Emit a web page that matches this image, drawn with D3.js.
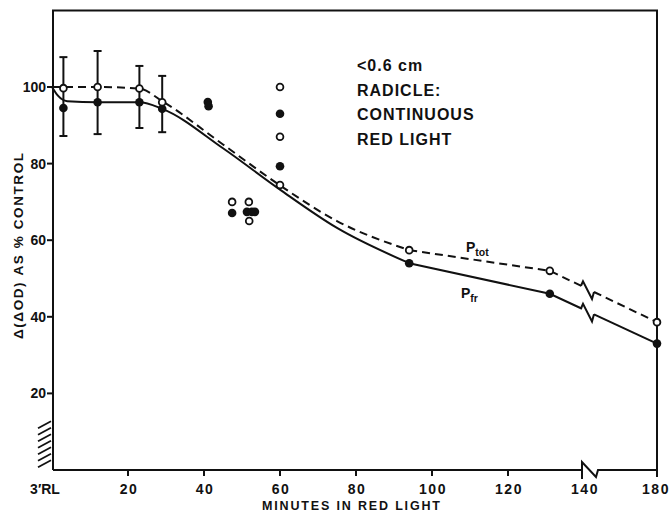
<!DOCTYPE html>
<html>
<head>
<meta charset="utf-8">
<script src="https://cdn.jsdelivr.net/npm/d3@7"></script>
<style>
    body { margin: 0; background: #fff; }
    svg text { font-family: "Liberation Sans", Arial, sans-serif; font-weight: bold; fill: #111; }
</style>
</head>
<body>
<svg id="chart" width="669" height="512"></svg>
<script>
// ── Data ─────────────────────────────────────────────────

const xTicks = [0, 20, 40, 60, 80, 100, 120, 140, 180];
const xTickLabels = ['3\u2032RL', '20', '40', '60', '80', '100', '120', '140', '180'];
const yTicks = [20, 40, 60, 80, 100];

// fitted curves (minutes, % control)
const totCurve = [[0, 100], [3, 100], [12, 100], [23, 99.6], [29, 96.3], [45, 85], [60, 74.3], [75, 65], [94, 57.4]];
const frCurve = [[0, 100], [1.5, 97.8], [4, 96.3], [12, 96], [23, 96], [29, 94.3], [45, 84], [60, 73.2], [75, 63.2], [94, 54]];
// straight segments after the curve; the axis break sits between the last two
const totTail = [[94, 57.4], [131, 52], [180, 38.6]];
const frTail = [[94, 54], [131, 46], [180, 33]];

// markers on curves
const totPoints = [[3, 99.7], [12, 100], [23, 99.6], [29, 96], [60, 74.4], [94, 57.4], [131, 52], [180, 38.6]];
const frPoints = [[3, 94.5], [12, 96], [23, 96], [29, 94.3], [94, 54], [131, 46], [180, 33]];

// error bars [minutes, low, high]
const errorBars = [[3, 87.2, 107.8], [12, 87.7, 109.4], [23, 89.3, 105.5], [29, 88.2, 102.9]];

// loose individual determinations
const scatterOpen = [[47.4, 70], [51.8, 70], [51.9, 65], [60, 100], [60, 87]];
const scatterFilled = [[41, 96.1], [41.2, 95], [47.4, 67.1], [51.3, 67.4], [52.6, 67.4], [53.4, 67.4], [60, 93], [60, 79.3]];

const noteLines = ['<0.6 cm', 'RADICLE:', 'CONTINUOUS', 'RED LIGHT'];

// ── Scales ──────────────────────────────────────────────

const svg = d3.select('#chart');
const x = d3.scaleLinear().domain([0, 140, 180]).range([52, 584, 657]);
const y = d3.scaleLinear().domain([0, 120]).range([470, 10.4]);
const ink = '#111';

// ── Frame ───────────────────────────────────────────────

svg.append('path')
    .attr('d', `M${x(0) + 1},${y(0)} V${y(120)} H${x(180)} V${y(0)}`)
    .attr('fill', 'none').attr('stroke', ink).attr('stroke-width', 2);
svg.append('line')
    .attr('x1', x(180)).attr('x2', x(180)).attr('y1', y(0)).attr('y2', y(0) + 7)
    .attr('stroke', ink).attr('stroke-width', 2);

// x axis with break after 140
const xb = x(140) - 2;
svg.append('path')
    .attr('d', `M${x(0) + 1},${y(0)} H${xb} M${xb},${y(0) + 9} V${y(0) - 8} L${xb + 14},${y(0) + 7} L${xb + 16},${y(0)} H${x(180)}`)
    .attr('fill', 'none').attr('stroke', ink).attr('stroke-width', 2);

// hatch under y axis
const hatch = d3.range(y(1.5), y(13), -6.5);
svg.append('g').selectAll('line').data(hatch).enter().append('line')
    .attr('x1', 38).attr('y1', d => d + 3)
    .attr('x2', 51).attr('y2', d => d - 4)
    .attr('stroke', ink).attr('stroke-width', 1.8);

// ticks
svg.append('g').selectAll('line').data(xTicks.filter(t => t !== 0 && t !== 140 && t !== 180)).enter().append('line')
    .attr('x1', d => x(d)).attr('x2', d => x(d))
    .attr('y1', y(0) - 1).attr('y2', y(0) + 6)
    .attr('stroke', ink).attr('stroke-width', 2);
svg.append('g').selectAll('line').data(yTicks).enter().append('line')
    .attr('x1', x(0) - 5).attr('x2', x(0) + 1)
    .attr('y1', d => y(d)).attr('y2', d => y(d))
    .attr('stroke', ink).attr('stroke-width', 2);

// tick labels
svg.append('g').selectAll('text').data(xTicks).enter().append('text')
    .attr('x', (d, i) => i === 0 ? x(d) - 7 : (i === xTicks.length - 1 ? x(d) - 1 : x(d) + 1))
    .attr('y', 494)
    .attr('text-anchor', 'middle')
    .style('font-size', '14px')
    .style('letter-spacing', (d, i) => i === 0 ? '0px' : '1.5px')
    .text((d, i) => xTickLabels[i]);
svg.append('g').selectAll('text').data(yTicks).enter().append('text')
    .attr('x', x(0) - 6)
    .attr('y', d => y(d) + 5)
    .attr('text-anchor', 'end')
    .style('font-size', '14px')
    .text(d => d);

// axis titles
svg.append('text')
    .attr('x', 351).attr('y', 510)
    .attr('text-anchor', 'middle')
    .attr('textLength', 178).attr('lengthAdjust', 'spacing')
    .style('font-size', '12.5px')
    .text('MINUTES IN RED LIGHT');
svg.append('text')
    .attr('transform', 'translate(23,246) rotate(-90)')
    .attr('text-anchor', 'middle')
    .attr('textLength', 186).attr('lengthAdjust', 'spacing')
    .style('font-size', '13.5px')
    .text('\u0394(\u0394OD) AS % CONTROL');

// ── Curves ──────────────────────────────────────────────

const line = d3.line().x(d => x(d[0])).y(d => y(d[1])).curve(d3.curveMonotoneX);

function drawSeries(curve, tail, dash) {
    const g = svg.append('g')
        .attr('fill', 'none').attr('stroke', ink).attr('stroke-width', 2)
        .attr('stroke-dasharray', dash);
    g.append('path').attr('d', line(curve));
    // straight tail with a zigzag break near 140
    const p0 = [x(tail[1][0]), y(tail[1][1])];
    const p1 = [x(tail[2][0]), y(tail[2][1])];
    const yAt = px => p0[1] + (p1[1] - p0[1]) * (px - p0[0]) / (p1[0] - p0[0]);
    const a = x(140) - 2, b = a + 12;
    g.append('path').attr('d', `M${x(tail[0][0])},${y(tail[0][1])} L${p0[0]},${p0[1]} L${a},${yAt(a)}`);
    g.append('path').attr('d', `M${b},${yAt(b)} L${p1[0]},${p1[1]}`);
    svg.append('path')
        .attr('d', `M${a - 1},${yAt(a - 1)} L${a + 1},${yAt(a) - 5} L${a + 10},${yAt(a + 10) + 8} L${b},${yAt(b)}`)
        .attr('fill', 'none').attr('stroke', ink).attr('stroke-width', 2);
}
drawSeries(totCurve, totTail, '8,5');
drawSeries(frCurve, frTail, null);

// error bars
const eb = svg.append('g').attr('stroke', ink).attr('stroke-width', 2);
errorBars.forEach(d => {
    eb.append('line').attr('x1', x(d[0])).attr('x2', x(d[0])).attr('y1', y(d[1])).attr('y2', y(d[2]));
    eb.append('line').attr('x1', x(d[0]) - 4).attr('x2', x(d[0]) + 4).attr('y1', y(d[1])).attr('y2', y(d[1]));
    eb.append('line').attr('x1', x(d[0]) - 4).attr('x2', x(d[0]) + 4).attr('y1', y(d[2])).attr('y2', y(d[2]));
});

// ── Markers ─────────────────────────────────────────────

svg.append('g').selectAll('circle').data(frPoints.concat(scatterFilled)).enter().append('circle')
    .attr('cx', d => x(d[0])).attr('cy', d => y(d[1]))
    .attr('r', 4.3).attr('fill', ink);
svg.append('g').selectAll('circle').data(totPoints.concat(scatterOpen)).enter().append('circle')
    .attr('cx', d => x(d[0])).attr('cy', d => y(d[1]))
    .attr('r', 3.4).attr('fill', '#fff').attr('stroke', ink).attr('stroke-width', 1.8);

// ── Labels ──────────────────────────────────────────────

svg.append('g').selectAll('text').data(noteLines).enter().append('text')
    .attr('x', 357).attr('y', (d, i) => 71 + i * 24.5)
    .style('font-size', '16px')
    .style('letter-spacing', '1px')
    .text(d => d);

function pLabel(px, py, sub) {
    const t = svg.append('text').attr('x', px).attr('y', py).style('font-size', '14px');
    t.append('tspan').text('P');
    t.append('tspan').attr('dy', 4).style('font-size', '10.5px').text(sub);
}
pLabel(466, 252, 'tot');
pLabel(461, 298, 'fr');
</script>
</body>
</html>
